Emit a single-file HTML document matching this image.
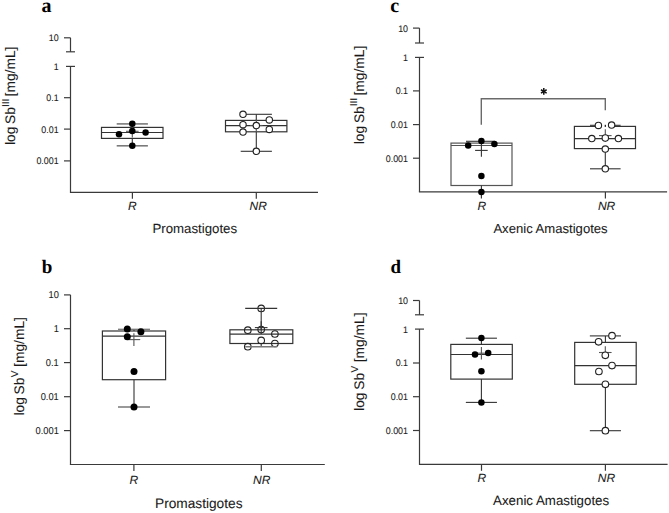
<!DOCTYPE html>
<html><head><meta charset="utf-8"><style>
html,body{margin:0;padding:0;background:#fff;}
body{width:669px;height:513px;overflow:hidden;}
svg{display:block;}
text{font-family:"Liberation Sans",sans-serif;text-rendering:geometricPrecision;fill:#1a1a1a;stroke:#1a1a1a;stroke-width:0.08px;}
text.pl{font-family:"Liberation Serif",serif;font-weight:bold;font-size:20px;fill:#000;stroke:none;}
</style></head><body>
<svg width="669" height="513" viewBox="0 0 669 513">
<rect width="669" height="513" fill="#fff"/>
<text x="41.5" y="11.5" class="pl" style="font-size:20px">a</text>
<line x1="70.5" y1="37.8" x2="70.5" y2="51.8" stroke="#3a3a3a" stroke-width="1.2"/>
<line x1="64.0" y1="37.8" x2="70.5" y2="37.8" stroke="#3a3a3a" stroke-width="1.2"/>
<line x1="66.0" y1="51.8" x2="75.0" y2="51.8" stroke="#3a3a3a" stroke-width="1.2"/>
<line x1="66.0" y1="66.4" x2="75.0" y2="66.4" stroke="#3a3a3a" stroke-width="1.2"/>
<line x1="70.5" y1="66.4" x2="70.5" y2="192.3" stroke="#3a3a3a" stroke-width="1.2"/>
<text transform="translate(58.6,41.21) scale(1,1.07)" font-size="8.9" text-anchor="end">10</text>
<text transform="translate(58.6,69.81) scale(1,1.07)" font-size="8.9" text-anchor="end">1</text>
<line x1="64.0" y1="97.7" x2="70.5" y2="97.7" stroke="#3a3a3a" stroke-width="1.2"/>
<text transform="translate(58.6,101.11) scale(1,1.07)" font-size="8.9" text-anchor="end">0.1</text>
<line x1="64.0" y1="129.1" x2="70.5" y2="129.1" stroke="#3a3a3a" stroke-width="1.2"/>
<text transform="translate(58.6,132.51) scale(1,1.07)" font-size="8.9" text-anchor="end">0.01</text>
<line x1="64.0" y1="160.9" x2="70.5" y2="160.9" stroke="#3a3a3a" stroke-width="1.2"/>
<text transform="translate(58.6,164.31) scale(1,1.07)" font-size="8.9" text-anchor="end">0.001</text>
<line x1="69.9" y1="192.3" x2="318" y2="192.3" stroke="#3a3a3a" stroke-width="1.2"/>
<line x1="132.4" y1="192.3" x2="132.4" y2="198.8" stroke="#3a3a3a" stroke-width="1.2"/>
<text x="127.9" y="210.0" font-size="12" text-anchor="start" font-style="italic" >R</text>
<line x1="256.3" y1="192.3" x2="256.3" y2="198.8" stroke="#3a3a3a" stroke-width="1.2"/>
<text x="249.6" y="210.0" font-size="12" text-anchor="start" font-style="italic" >NR</text>
<text x="152.4" y="232.9" font-size="13.25" text-anchor="start"  >Promastigotes</text>
<text transform="translate(14.8,145.0) rotate(-90)" font-size="13.8" text-anchor="start">log</text>
<text transform="translate(14.8,123.9) rotate(-90)" font-size="13.8" text-anchor="start">Sb</text>
<text transform="translate(8.6,107.0) rotate(-90)" font-size="10" text-anchor="start">III</text>
<text transform="translate(14.8,96.4) rotate(-90)" font-size="13.8" text-anchor="start">[mg/mL]</text>
<rect x="101.5" y="127.4" width="61.5" height="11.0" fill="none" stroke="#333" stroke-width="1.2"/>
<line x1="101.5" y1="132.5" x2="163.0" y2="132.5" stroke="#333" stroke-width="1.2"/>
<line x1="132.3" y1="123.9" x2="132.3" y2="127.4" stroke="#333" stroke-width="1.1"/>
<line x1="132.3" y1="138.4" x2="132.3" y2="145.8" stroke="#333" stroke-width="1.1"/>
<line x1="116.7" y1="123.9" x2="147.9" y2="123.9" stroke="#7a7a7a" stroke-width="1.6"/>
<line x1="116.70000000000002" y1="145.8" x2="147.9" y2="145.8" stroke="#7a7a7a" stroke-width="1.6"/>
<line x1="126.00000000000001" y1="131.3" x2="138.60000000000002" y2="131.3" stroke="#555" stroke-width="1.1"/>
<line x1="132.3" y1="125.00000000000001" x2="132.3" y2="137.60000000000002" stroke="#555" stroke-width="1.1"/>
<circle cx="132.3" cy="123.7" r="3.25" fill="#000"/>
<circle cx="132.3" cy="131.0" r="3.25" fill="#000"/>
<circle cx="119.0" cy="134.2" r="3.25" fill="#000"/>
<circle cx="145.6" cy="132.4" r="3.25" fill="#000"/>
<circle cx="132.3" cy="145.8" r="3.25" fill="#000"/>
<rect x="225.5" y="120.4" width="61.4" height="11.4" fill="none" stroke="#333" stroke-width="1.2"/>
<line x1="225.5" y1="125.7" x2="286.9" y2="125.7" stroke="#333" stroke-width="1.2"/>
<line x1="256.3" y1="114.3" x2="256.3" y2="120.4" stroke="#333" stroke-width="1.1"/>
<line x1="256.3" y1="131.8" x2="256.3" y2="151.3" stroke="#333" stroke-width="1.1"/>
<line x1="240.7" y1="114.3" x2="271.9" y2="114.3" stroke="#333" stroke-width="1.1"/>
<line x1="240.70000000000002" y1="151.3" x2="271.90000000000003" y2="151.3" stroke="#333" stroke-width="1.1"/>
<line x1="250.0" y1="125.5" x2="262.6" y2="125.5" stroke="#555" stroke-width="1.1"/>
<line x1="256.3" y1="119.2" x2="256.3" y2="131.8" stroke="#555" stroke-width="1.1"/>
<circle cx="243.0" cy="114.3" r="3.2" fill="#fff" stroke="#222" stroke-width="1.1"/>
<circle cx="243.0" cy="124.7" r="3.2" fill="#fff" stroke="#222" stroke-width="1.1"/>
<circle cx="243.0" cy="132.1" r="3.2" fill="#fff" stroke="#222" stroke-width="1.1"/>
<circle cx="256.3" cy="125.6" r="3.2" fill="#fff" stroke="#222" stroke-width="1.1"/>
<circle cx="269.3" cy="119.9" r="3.2" fill="#fff" stroke="#222" stroke-width="1.1"/>
<circle cx="269.3" cy="129.4" r="3.2" fill="#fff" stroke="#222" stroke-width="1.1"/>
<circle cx="256.3" cy="151.3" r="3.2" fill="#fff" stroke="#222" stroke-width="1.1"/>
<text x="390.3" y="11.5" class="pl" style="font-size:20px">c</text>
<line x1="419.5" y1="28.1" x2="419.5" y2="43.0" stroke="#3a3a3a" stroke-width="1.2"/>
<line x1="413.0" y1="28.1" x2="419.5" y2="28.1" stroke="#3a3a3a" stroke-width="1.2"/>
<line x1="415.0" y1="43.0" x2="424.0" y2="43.0" stroke="#3a3a3a" stroke-width="1.2"/>
<line x1="415.0" y1="57.4" x2="424.0" y2="57.4" stroke="#3a3a3a" stroke-width="1.2"/>
<line x1="419.5" y1="57.4" x2="419.5" y2="191.9" stroke="#3a3a3a" stroke-width="1.2"/>
<text transform="translate(408.0,31.51) scale(1,1.07)" font-size="8.9" text-anchor="end">10</text>
<text transform="translate(408.0,60.81) scale(1,1.07)" font-size="8.9" text-anchor="end">1</text>
<line x1="413.0" y1="90.9" x2="419.5" y2="90.9" stroke="#3a3a3a" stroke-width="1.2"/>
<text transform="translate(408.0,94.31) scale(1,1.07)" font-size="8.9" text-anchor="end">0.1</text>
<line x1="413.0" y1="124.6" x2="419.5" y2="124.6" stroke="#3a3a3a" stroke-width="1.2"/>
<text transform="translate(408.0,128.01) scale(1,1.07)" font-size="8.9" text-anchor="end">0.01</text>
<line x1="413.0" y1="158.2" x2="419.5" y2="158.2" stroke="#3a3a3a" stroke-width="1.2"/>
<text transform="translate(408.0,161.61) scale(1,1.07)" font-size="8.9" text-anchor="end">0.001</text>
<line x1="418.9" y1="191.9" x2="667.1" y2="191.9" stroke="#3a3a3a" stroke-width="1.2"/>
<line x1="481.4" y1="191.9" x2="481.4" y2="198.4" stroke="#3a3a3a" stroke-width="1.2"/>
<text x="477.4" y="209.9" font-size="12" text-anchor="start" font-style="italic" >R</text>
<line x1="605.4" y1="191.9" x2="605.4" y2="198.4" stroke="#3a3a3a" stroke-width="1.2"/>
<text x="597.9" y="210.2" font-size="12" text-anchor="start" font-style="italic" >NR</text>
<text x="493.4" y="232.7" font-size="13.1" text-anchor="start"  >Axenic Amastigotes</text>
<text transform="translate(363.6,144.2) rotate(-90)" font-size="13.8" text-anchor="start">log</text>
<text transform="translate(363.6,123.1) rotate(-90)" font-size="13.8" text-anchor="start">Sb</text>
<text transform="translate(357.4,106.2) rotate(-90)" font-size="10" text-anchor="start">III</text>
<text transform="translate(363.6,95.6) rotate(-90)" font-size="13.8" text-anchor="start">[mg/mL]</text>
<rect x="451.0" y="143.1" width="61.0" height="42.4" fill="none" stroke="#555" stroke-width="1.2"/>
<line x1="451.0" y1="145.5" x2="512.0" y2="145.5" stroke="#555" stroke-width="1.2"/>
<line x1="481.4" y1="141.3" x2="481.4" y2="143.1" stroke="#333" stroke-width="1.1"/>
<line x1="481.4" y1="185.5" x2="481.4" y2="192.0" stroke="#333" stroke-width="1.1"/>
<line x1="466.0" y1="141.3" x2="494.6" y2="141.3" stroke="#333" stroke-width="1.1"/>
<line x1="475.09999999999997" y1="150.4" x2="487.7" y2="150.4" stroke="#333" stroke-width="1.1"/>
<line x1="481.4" y1="144.1" x2="481.4" y2="156.70000000000002" stroke="#333" stroke-width="1.1"/>
<circle cx="481.4" cy="141.0" r="3.25" fill="#000"/>
<circle cx="468.2" cy="145.6" r="3.25" fill="#000"/>
<circle cx="494.4" cy="143.9" r="3.25" fill="#000"/>
<circle cx="481.4" cy="176.0" r="3.25" fill="#000"/>
<circle cx="481.4" cy="192.0" r="3.25" fill="#000"/>
<rect x="574.4" y="126.4" width="61.1" height="22.2" fill="none" stroke="#333" stroke-width="1.2"/>
<line x1="574.4" y1="138.6" x2="635.5" y2="138.6" stroke="#333" stroke-width="1.2"/>
<line x1="605.3" y1="125.3" x2="605.3" y2="126.4" stroke="#333" stroke-width="1.1"/>
<line x1="605.3" y1="148.6" x2="605.3" y2="168.8" stroke="#333" stroke-width="1.1"/>
<line x1="590.0" y1="125.3" x2="620.6" y2="125.3" stroke="#333" stroke-width="1.1"/>
<line x1="590.0" y1="168.8" x2="620.5999999999999" y2="168.8" stroke="#333" stroke-width="1.1"/>
<line x1="599.0" y1="135.6" x2="611.5999999999999" y2="135.6" stroke="#555" stroke-width="1.1"/>
<line x1="605.3" y1="129.29999999999998" x2="605.3" y2="141.9" stroke="#555" stroke-width="1.1"/>
<rect x="601.3" y="123.8" width="8.0" height="3.8" fill="#fff"/>
<rect x="604.6999999999999" y="124.8" width="1.2" height="2.1" fill="#111"/>
<circle cx="598.4" cy="125.4" r="3.2" fill="#fff" stroke="#222" stroke-width="1.1"/>
<circle cx="611.6" cy="125.1" r="3.2" fill="#fff" stroke="#222" stroke-width="1.1"/>
<circle cx="591.8" cy="138.6" r="3.2" fill="#fff" stroke="#222" stroke-width="1.1"/>
<circle cx="605.3" cy="138.0" r="3.2" fill="#fff" stroke="#222" stroke-width="1.1"/>
<circle cx="618.4" cy="138.6" r="3.2" fill="#fff" stroke="#222" stroke-width="1.1"/>
<circle cx="605.3" cy="149.1" r="3.2" fill="#fff" stroke="#222" stroke-width="1.1"/>
<circle cx="605.3" cy="168.8" r="3.2" fill="#fff" stroke="#222" stroke-width="1.1"/>
<polyline points="481.3,124.8 481.3,98.7 605.3,98.7 605.3,110.2" fill="none" stroke="#6a6a6a" stroke-width="1.4"/>
<line x1="543.8" y1="88.1" x2="543.8" y2="94.7" stroke="#111" stroke-width="1.5"/>
<line x1="540.94" y1="89.75" x2="546.66" y2="93.05" stroke="#111" stroke-width="1.5"/>
<line x1="546.66" y1="89.75" x2="540.94" y2="93.05" stroke="#111" stroke-width="1.5"/>
<text x="41.8" y="272.8" class="pl" style="font-size:19px">b</text>
<line x1="70.5" y1="294.9" x2="70.5" y2="464.5" stroke="#3a3a3a" stroke-width="1.2"/>
<line x1="64.0" y1="294.9" x2="70.5" y2="294.9" stroke="#3a3a3a" stroke-width="1.2"/>
<text transform="translate(58.8,298.46) scale(1,1.07)" font-size="9.3" text-anchor="end">10</text>
<line x1="64.0" y1="328.7" x2="70.5" y2="328.7" stroke="#3a3a3a" stroke-width="1.2"/>
<text transform="translate(58.8,332.26) scale(1,1.07)" font-size="9.3" text-anchor="end">1</text>
<line x1="64.0" y1="362.6" x2="70.5" y2="362.6" stroke="#3a3a3a" stroke-width="1.2"/>
<text transform="translate(58.8,366.16) scale(1,1.07)" font-size="9.3" text-anchor="end">0.1</text>
<line x1="64.0" y1="396.7" x2="70.5" y2="396.7" stroke="#3a3a3a" stroke-width="1.2"/>
<text transform="translate(58.8,400.26) scale(1,1.07)" font-size="9.3" text-anchor="end">0.01</text>
<line x1="64.0" y1="430.6" x2="70.5" y2="430.6" stroke="#3a3a3a" stroke-width="1.2"/>
<text transform="translate(58.8,434.16) scale(1,1.07)" font-size="9.3" text-anchor="end">0.001</text>
<line x1="69.9" y1="464.5" x2="324.8" y2="464.5" stroke="#3a3a3a" stroke-width="1.2"/>
<line x1="133.9" y1="464.5" x2="133.9" y2="471.0" stroke="#3a3a3a" stroke-width="1.2"/>
<text x="129.6" y="484.0" font-size="12" text-anchor="start" font-style="italic" >R</text>
<line x1="261.3" y1="464.5" x2="261.3" y2="471.0" stroke="#3a3a3a" stroke-width="1.2"/>
<text x="253.1" y="484.1" font-size="12" text-anchor="start" font-style="italic" >NR</text>
<text x="155.0" y="507.7" font-size="13.7" text-anchor="start"  >Promastigotes</text>
<text transform="translate(24.0,415.5) rotate(-90)" font-size="13.8" text-anchor="start">log</text>
<text transform="translate(24.0,394.4) rotate(-90)" font-size="13.8" text-anchor="start">Sb</text>
<text transform="translate(17.8,377.2) rotate(-90)" font-size="10" text-anchor="start">V</text>
<text transform="translate(24.0,366.9) rotate(-90)" font-size="13.8" text-anchor="start">[mg/mL]</text>
<rect x="102.4" y="331.0" width="63.2" height="48.7" fill="none" stroke="#333" stroke-width="1.2"/>
<line x1="102.4" y1="336.1" x2="165.6" y2="336.1" stroke="#333" stroke-width="1.2"/>
<line x1="134.0" y1="329.3" x2="134.0" y2="331.0" stroke="#333" stroke-width="1.1"/>
<line x1="134.0" y1="379.7" x2="134.0" y2="407.0" stroke="#333" stroke-width="1.1"/>
<line x1="118.0" y1="329.3" x2="150.0" y2="329.3" stroke="#777" stroke-width="1.3"/>
<line x1="118.0" y1="407.0" x2="150.0" y2="407.0" stroke="#777" stroke-width="1.5"/>
<line x1="127.60000000000001" y1="339.6" x2="140.20000000000002" y2="339.6" stroke="#555" stroke-width="1.1"/>
<line x1="133.9" y1="333.3" x2="133.9" y2="345.90000000000003" stroke="#555" stroke-width="1.1"/>
<circle cx="127.3" cy="329.0" r="3.5" fill="#000"/>
<circle cx="140.9" cy="331.7" r="3.5" fill="#000"/>
<circle cx="127.3" cy="336.8" r="3.5" fill="#000"/>
<circle cx="134.0" cy="371.4" r="3.5" fill="#000"/>
<circle cx="134.0" cy="407.0" r="3.5" fill="#000"/>
<rect x="229.9" y="329.8" width="62.9" height="13.7" fill="none" stroke="#333" stroke-width="1.2"/>
<line x1="229.9" y1="334.1" x2="292.8" y2="334.1" stroke="#333" stroke-width="1.2"/>
<circle cx="261.2" cy="308.4" r="3.3" fill="none" stroke="#222" stroke-width="1.1"/>
<circle cx="247.8" cy="330.2" r="3.3" fill="none" stroke="#222" stroke-width="1.1"/>
<circle cx="261.2" cy="329.6" r="3.3" fill="none" stroke="#222" stroke-width="1.1"/>
<circle cx="274.9" cy="334.0" r="3.3" fill="none" stroke="#222" stroke-width="1.1"/>
<circle cx="261.2" cy="340.4" r="3.3" fill="none" stroke="#222" stroke-width="1.1"/>
<circle cx="274.9" cy="343.5" r="3.3" fill="none" stroke="#222" stroke-width="1.1"/>
<circle cx="247.8" cy="346.7" r="3.3" fill="none" stroke="#222" stroke-width="1.1"/>
<line x1="261.2" y1="308.4" x2="261.2" y2="329.8" stroke="#333" stroke-width="1.1"/>
<line x1="261.2" y1="343.5" x2="261.2" y2="346.7" stroke="#333" stroke-width="1.1"/>
<line x1="245.2" y1="308.4" x2="277.2" y2="308.4" stroke="#333" stroke-width="1.1"/>
<line x1="245.2" y1="346.7" x2="277.2" y2="346.7" stroke="#777" stroke-width="1.6"/>
<line x1="254.89999999999998" y1="327.6" x2="267.5" y2="327.6" stroke="#333" stroke-width="1.1"/>
<line x1="261.2" y1="321.3" x2="261.2" y2="333.90000000000003" stroke="#333" stroke-width="1.1"/>
<text x="390.5" y="272.7" class="pl" style="font-size:19px">d</text>
<line x1="419.5" y1="300.5" x2="419.5" y2="314.8" stroke="#3a3a3a" stroke-width="1.2"/>
<line x1="413.0" y1="300.5" x2="419.5" y2="300.5" stroke="#3a3a3a" stroke-width="1.2"/>
<line x1="415.0" y1="314.8" x2="424.0" y2="314.8" stroke="#3a3a3a" stroke-width="1.2"/>
<line x1="415.0" y1="329.1" x2="424.0" y2="329.1" stroke="#3a3a3a" stroke-width="1.2"/>
<line x1="419.5" y1="329.1" x2="419.5" y2="464.3" stroke="#3a3a3a" stroke-width="1.2"/>
<text transform="translate(408.0,303.91) scale(1,1.07)" font-size="8.9" text-anchor="end">10</text>
<text transform="translate(408.0,332.51) scale(1,1.07)" font-size="8.9" text-anchor="end">1</text>
<line x1="413.0" y1="363.0" x2="419.5" y2="363.0" stroke="#3a3a3a" stroke-width="1.2"/>
<text transform="translate(408.0,366.41) scale(1,1.07)" font-size="8.9" text-anchor="end">0.1</text>
<line x1="413.0" y1="396.7" x2="419.5" y2="396.7" stroke="#3a3a3a" stroke-width="1.2"/>
<text transform="translate(408.0,400.11) scale(1,1.07)" font-size="8.9" text-anchor="end">0.01</text>
<line x1="413.0" y1="430.5" x2="419.5" y2="430.5" stroke="#3a3a3a" stroke-width="1.2"/>
<text transform="translate(408.0,433.91) scale(1,1.07)" font-size="8.9" text-anchor="end">0.001</text>
<line x1="418.9" y1="464.3" x2="667.6" y2="464.3" stroke="#3a3a3a" stroke-width="1.2"/>
<line x1="481.5" y1="464.3" x2="481.5" y2="470.8" stroke="#3a3a3a" stroke-width="1.2"/>
<text x="477.6" y="482.2" font-size="12" text-anchor="start" font-style="italic" >R</text>
<line x1="605.4" y1="464.3" x2="605.4" y2="470.8" stroke="#3a3a3a" stroke-width="1.2"/>
<text x="597.8" y="482.4" font-size="12" text-anchor="start" font-style="italic" >NR</text>
<text x="493.1" y="505.1" font-size="13.3" text-anchor="start"  >Axenic Amastigotes</text>
<text transform="translate(364.1,410.9) rotate(-90)" font-size="13.8" text-anchor="start">log</text>
<text transform="translate(364.1,389.8) rotate(-90)" font-size="13.8" text-anchor="start">Sb</text>
<text transform="translate(357.9,372.6) rotate(-90)" font-size="10" text-anchor="start">V</text>
<text transform="translate(364.1,362.3) rotate(-90)" font-size="13.8" text-anchor="start">[mg/mL]</text>
<rect x="450.8" y="344.4" width="61.5" height="34.7" fill="none" stroke="#333" stroke-width="1.2"/>
<line x1="450.8" y1="354.5" x2="512.3" y2="354.5" stroke="#333" stroke-width="1.2"/>
<line x1="481.4" y1="338.2" x2="481.4" y2="344.4" stroke="#333" stroke-width="1.1"/>
<line x1="481.4" y1="379.1" x2="481.4" y2="402.4" stroke="#333" stroke-width="1.1"/>
<line x1="465.85" y1="338.2" x2="496.95" y2="338.2" stroke="#333" stroke-width="1.1"/>
<line x1="465.84999999999997" y1="402.4" x2="496.95" y2="402.4" stroke="#333" stroke-width="1.1"/>
<line x1="475.09999999999997" y1="353.2" x2="487.7" y2="353.2" stroke="#555" stroke-width="1.1"/>
<line x1="481.4" y1="346.9" x2="481.4" y2="359.5" stroke="#555" stroke-width="1.1"/>
<circle cx="481.4" cy="338.1" r="3.25" fill="#000"/>
<circle cx="475.0" cy="354.5" r="3.25" fill="#000"/>
<circle cx="488.2" cy="353.0" r="3.25" fill="#000"/>
<circle cx="481.4" cy="371.2" r="3.25" fill="#000"/>
<circle cx="481.4" cy="402.4" r="3.25" fill="#000"/>
<rect x="574.7" y="342.4" width="61.5" height="41.9" fill="none" stroke="#333" stroke-width="1.2"/>
<line x1="574.7" y1="365.6" x2="636.2" y2="365.6" stroke="#333" stroke-width="1.2"/>
<line x1="605.4" y1="335.9" x2="605.4" y2="342.4" stroke="#333" stroke-width="1.1"/>
<line x1="605.4" y1="384.3" x2="605.4" y2="430.7" stroke="#333" stroke-width="1.1"/>
<line x1="589.85" y1="335.9" x2="620.95" y2="335.9" stroke="#333" stroke-width="1.1"/>
<line x1="589.85" y1="430.7" x2="620.9499999999999" y2="430.7" stroke="#333" stroke-width="1.1"/>
<line x1="599.0" y1="352.5" x2="611.5999999999999" y2="352.5" stroke="#555" stroke-width="1.1"/>
<line x1="605.3" y1="346.2" x2="605.3" y2="358.8" stroke="#555" stroke-width="1.1"/>
<circle cx="612.0" cy="335.7" r="3.3" fill="#fff" stroke="#222" stroke-width="1.1"/>
<circle cx="598.6" cy="341.8" r="3.3" fill="#fff" stroke="#222" stroke-width="1.1"/>
<circle cx="605.3" cy="355.3" r="3.3" fill="#fff" stroke="#222" stroke-width="1.1"/>
<circle cx="612.0" cy="365.6" r="3.3" fill="#fff" stroke="#222" stroke-width="1.1"/>
<circle cx="598.9" cy="371.5" r="3.3" fill="#fff" stroke="#222" stroke-width="1.1"/>
<circle cx="605.4" cy="384.3" r="3.3" fill="#fff" stroke="#222" stroke-width="1.1"/>
<circle cx="605.4" cy="430.7" r="3.3" fill="#fff" stroke="#222" stroke-width="1.1"/>
</svg>
</body></html>
